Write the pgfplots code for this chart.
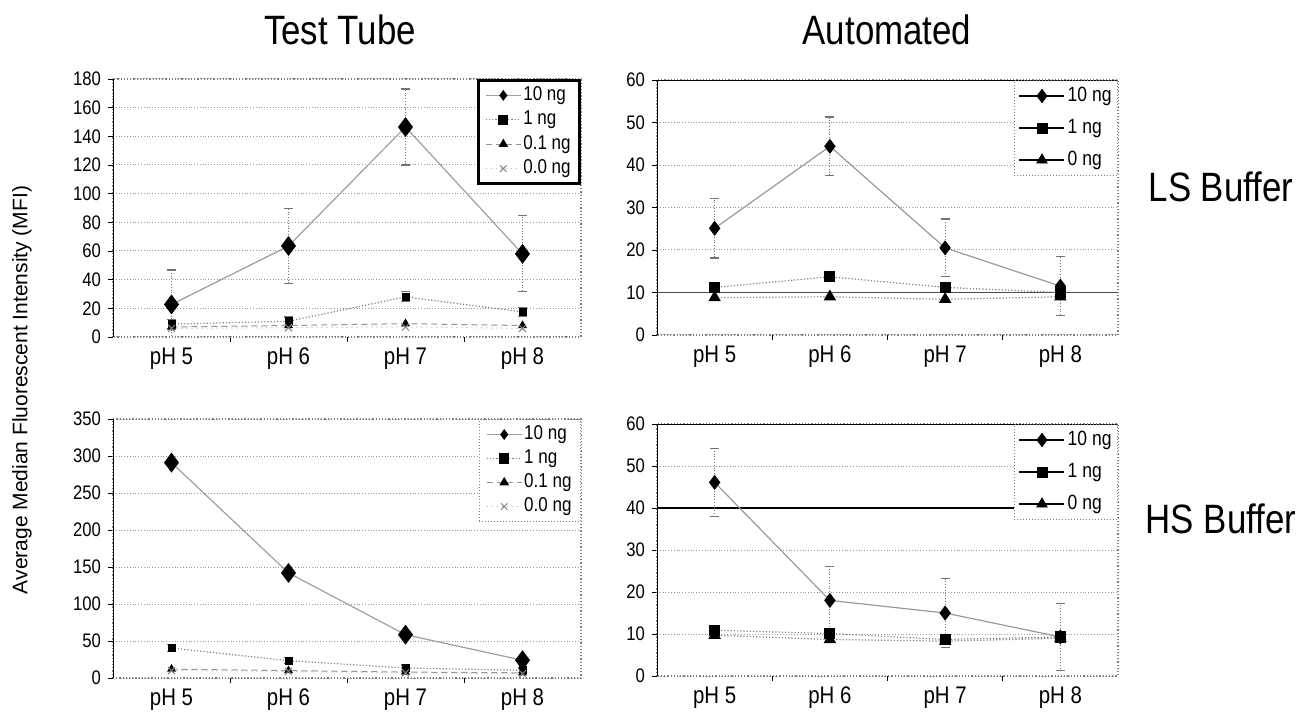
\documentclass[border=0pt]{standalone}
\usepackage{fontspec}
\setmainfont{Liberation Sans}[FakeStretch=0.85]
\newfontfamily\regfont{Liberation Sans}
\usepackage{pgfplots}
\pgfplotsset{compat=1.18}

\pgfplotsset{
  myax/.style={
    scale only axis, anchor=south west,
    xmin=-0.5, xmax=3.5, ymin=0,
    xtick={0.5,1.5,2.5}, xticklabels={},
    extra x ticks={0,1,2,3},
    extra x tick labels={pH 5,pH 6,pH 7,pH 8},
    extra x tick style={major tick length=0pt, grid=none},
    tick pos=left, tick align=outside, major tick length=2.5pt,
    tick style={black, solid, line width=0.4pt},
    ymajorgrids, grid style={densely dotted, gray!80, line width=0.5pt},
    axis line style={densely dotted, gray, line width=0.6pt},
    /pgf/number format/assume math mode=true,
    yticklabel style={font=\fontsize{9.8}{11}\selectfont},
    xticklabel style={font=\fontsize{12}{14}\selectfont, yshift=-2pt},
    legend cell align=left,
  },
  ebar/.style={
    error bars/y dir=both, error bars/y explicit,
    error bars/error bar style={densely dotted, gray!90!black, line width=0.6pt},
    error bars/error mark options={rotate=90, mark size=2.3pt, gray!90!black, solid, line width=0.6pt},
  },
  tt10/.style={gray!75, line width=0.6pt, mark=diamond*, mark size=4.5pt, mark options={solid, fill=black, draw=black}},
  tt1/.style={gray, densely dotted, line width=0.6pt, mark=square*, mark size=1.7pt, mark options={solid, fill=black, draw=black}},
  tt01/.style={gray!85, densely dashed, line width=0.5pt, mark=triangle*, mark size=2.1pt, mark options={solid, fill=black, draw=black}},
  tt00/.style={gray!60, dotted, line width=0.5pt, mark=x, mark size=2.5pt, mark options={solid, gray, line width=0.5pt}},
  au10/.style={gray!80, line width=0.6pt, mark=diamond*, mark size=3.3pt, mark options={solid, fill=black, draw=black}},
  au1/.style={gray, densely dotted, line width=0.6pt, mark=square*, mark size=2.5pt, mark options={solid, fill=black, draw=black}},
  au0/.style={gray, densely dotted, line width=0.6pt, mark=triangle*, mark size=3pt, mark options={solid, fill=black, draw=black}},
  ttleg/.style={
    legend image code/.code={\draw[mark repeat=2, mark phase=2, ##1, line width=0.5pt, mark size=2.3pt] plot coordinates {(0pt,0pt) (8.75pt,0pt) (17.5pt,0pt)};},
  },
  auleg/.style={
    legend image code/.code={\draw[black, solid, line width=1.2pt] (0pt,0pt) -- (22.5pt,0pt); \draw[##1, solid, line width=0.4pt, only marks] plot coordinates {(11.25pt,0pt)};},
    legend style={at={(1,1)}, anchor=north east, draw=gray, densely dotted, line width=0.5pt, fill=white,
      font=\fontsize{10.3}{12}\selectfont, inner xsep=2pt, inner ysep=2pt, row sep=4.5pt,
      nodes={inner sep=1pt, text height=7.5pt, text depth=2pt, solid}},
  },
}

\begin{document}
\begin{tikzpicture}
\useasboundingbox (0,0) rectangle (650pt,-357.5pt);

% Top-left: Test Tube, LS Buffer
\begin{axis}[myax, ttleg, at={(56.5pt,-168.5pt)}, width=234pt, height=129pt,
  ymax=180, ytick distance=20,
  legend style={at={(1,1)}, anchor=north east, draw=black, line width=1.4pt, fill=white,
    font=\fontsize{10}{11}\selectfont, inner xsep=3.5pt, inner ysep=2pt, row sep=1.2pt,
    nodes={inner sep=1pt, text height=7pt, text depth=2pt}}]
\draw[black, solid, line width=0.7pt] (rel axis cs:0,0) -- (rel axis cs:0,1);
\addplot[tt10, ebar] coordinates {(0,22.7) +- (0,24) (1,63.5) +- (0,26) (2,146.5) +- (0,26.5) (3,58) +- (0,26.5)};
\addplot[tt1, ebar] coordinates {(0,9) +- (0,3) (1,11) +- (0,3) (2,28) +- (0,3.5) (3,17.5) +- (0,3)};
\addplot[tt01] coordinates {(0,7) (1,8) (2,9.3) (3,8)};
\addplot[tt00] coordinates {(0,6) (1,6.5) (2,7) (3,6)};
\legend{10 ng, 1 ng, 0.1 ng, 0.0 ng}
\end{axis}

% Top-right: Automated, LS Buffer
\begin{axis}[myax, auleg, at={(328.5pt,-167.5pt)}, width=230.5pt, height=127.5pt,
  ymax=60, ytick distance=10,
  extra y ticks={10}, extra y tick labels={},
  extra y tick style={ymajorgrids, grid style={solid, black!70, line width=0.6pt}}]
\draw[black, solid, line width=0.7pt] (rel axis cs:0,0) -- (rel axis cs:0,1);
\draw[black, solid, line width=0.8pt] (rel axis cs:0,1) -- (rel axis cs:1,1);
\addplot[au10, ebar] coordinates {(0,25.1) +- (0,7) (1,44.4) +- (0,6.9) (2,20.5) +- (0,6.8) (3,11.5) +- (0,7)};
\addplot[au1] coordinates {(0,11.2) (1,13.7) (2,11.2) (3,10)};
\addplot[au0] coordinates {(0,8.8) (1,9) (2,8.4) (3,9)};
\legend{10 ng, 1 ng, 0 ng}
\end{axis}

% Bottom-left: Test Tube, HS Buffer
\begin{axis}[myax, ttleg, at={(56.5pt,-339pt)}, width=234pt, height=129.5pt,
  ymax=350, ytick distance=50,
  legend style={at={(1,1)}, anchor=north east, draw=gray, densely dotted, line width=0.5pt, fill=white,
    font=\fontsize{10}{11}\selectfont, inner xsep=3.5pt, inner ysep=2pt, row sep=1pt,
    nodes={inner sep=1pt, text height=7pt, text depth=2pt, solid}}]
\draw[black, solid, line width=0.7pt] (rel axis cs:0,0) -- (rel axis cs:0,1);
\addplot[tt10, ebar] coordinates {(0,291) +- (0,5) (1,142) +- (0,5) (2,58.5) +- (0,5) (3,24) +- (0,4)};
\addplot[tt1, ebar] coordinates {(0,40.5) +- (0,5) (1,23.4) +- (0,4) (2,13.5) +- (0,4) (3,10.4) +- (0,3)};
\addplot[tt01] coordinates {(0,12) (1,10) (2,8) (3,7)};
\addplot[tt00] coordinates {(0,10) (1,9) (2,7) (3,6)};
\legend{10 ng, 1 ng, 0.1 ng, 0.0 ng}
\end{axis}

% Bottom-right: Automated, HS Buffer
\begin{axis}[myax, auleg, at={(328.5pt,-338pt)}, width=230.5pt, height=126pt,
  ymax=60, ytick distance=10,
  extra y ticks={40}, extra y tick labels={},
  extra y tick style={ymajorgrids, grid style={solid, black, line width=0.7pt}}]
\draw[black, solid, line width=0.7pt] (rel axis cs:0,0) -- (rel axis cs:0,1);
\draw[black, solid, line width=0.8pt] (rel axis cs:0,1) -- (rel axis cs:1,1);
\addplot[au10, ebar] coordinates {(0,46.1) +- (0,8.1) (1,18) +- (0,8) (2,15) +- (0,8.2) (3,9.3) +- (0,8)};
\addplot[au1] coordinates {(0,10.9) (1,10.1) (2,8.7) (3,9.3)};
\addplot[au0] coordinates {(0,9.7) (1,8.7) (2,8.3) (3,9)};
\legend{10 ng, 1 ng, 0 ng}
\end{axis}

\node[font=\fontsize{20.5}{24}\selectfont] at (170pt,-15pt) {Test Tube};
\node[font=\fontsize{20.5}{24}\selectfont] at (443.5pt,-15pt) {Automated};
\node[font=\fontsize{20.5}{24}\selectfont] at (610.5pt,-93.5pt) {LS Buffer};
\node[font=\fontsize{20.5}{24}\selectfont] at (610.5pt,-259.5pt) {HS Buffer};
\node[rotate=90, font=\regfont\fontsize{10.5}{12}\selectfont] at (11pt,-195pt) {Average Median Fluorescent Intensity (MFI)};
\end{tikzpicture}
\end{document}
